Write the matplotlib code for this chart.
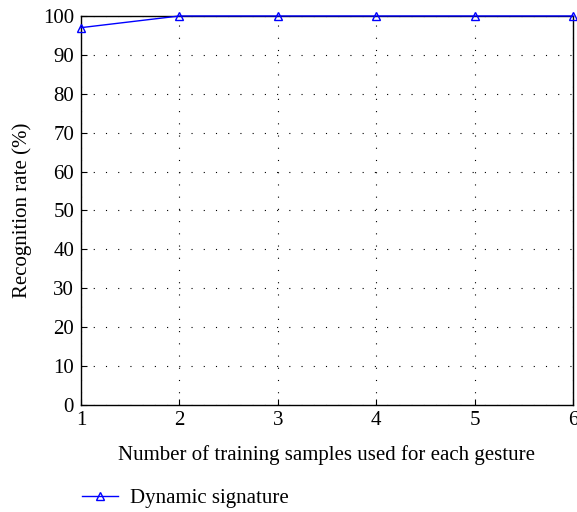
import matplotlib
matplotlib.use("Agg")
import matplotlib.pyplot as plt
from matplotlib.lines import Line2D

samples = [1, 2, 3, 4, 5, 6]
rates = [97, 100, 100, 100, 100, 100]
series_name = "Dynamic signature"
xlabel = "Number of training samples used for each gesture"
ylabel = "Recognition rate (%)"

plt.rcParams['font.family'] = ['Liberation Serif', 'DejaVu Serif']

fig = plt.figure(figsize=(5.77, 5.12), dpi=100)
ax = fig.add_axes([0.1404, 0.209, 0.8526, 0.7598])

ax.plot(samples, rates, color='#0000ff', lw=1.0, marker='^', ms=6,
        mfc='none', mec='#0000ff', mew=1.0, clip_on=False, zorder=5)

ax.set_xlim(1, 6)
ax.set_ylim(0, 100)
ax.set_xticks(samples)
ax.set_yticks(range(0, 101, 10))
ax.grid(True, color='black', linestyle=(0, (1, 10)), linewidth=0.8)
ax.tick_params(direction='in', length=4, labelsize=15, colors='black', width=0.8)
ax.tick_params(axis='x', pad=4)
ax.tick_params(axis='y', pad=5)
for s in ax.spines.values():
    s.set_linewidth(1.0)
ax.set_xlabel(xlabel, fontsize=15, labelpad=11)
ax.set_ylabel(ylabel, fontsize=15, labelpad=8)

handle = Line2D([], [], color='#0000ff', lw=1.0, marker='^', ms=6,
                mfc='none', mec='#0000ff', mew=1.0)
fig.legend([handle], [series_name], loc='center left',
           bbox_to_anchor=(0.142, 0.026), frameon=False, fontsize=15,
           handlelength=1.73, handletextpad=0.58, borderpad=0, borderaxespad=0)

fig.savefig("out.png", dpi=100)
